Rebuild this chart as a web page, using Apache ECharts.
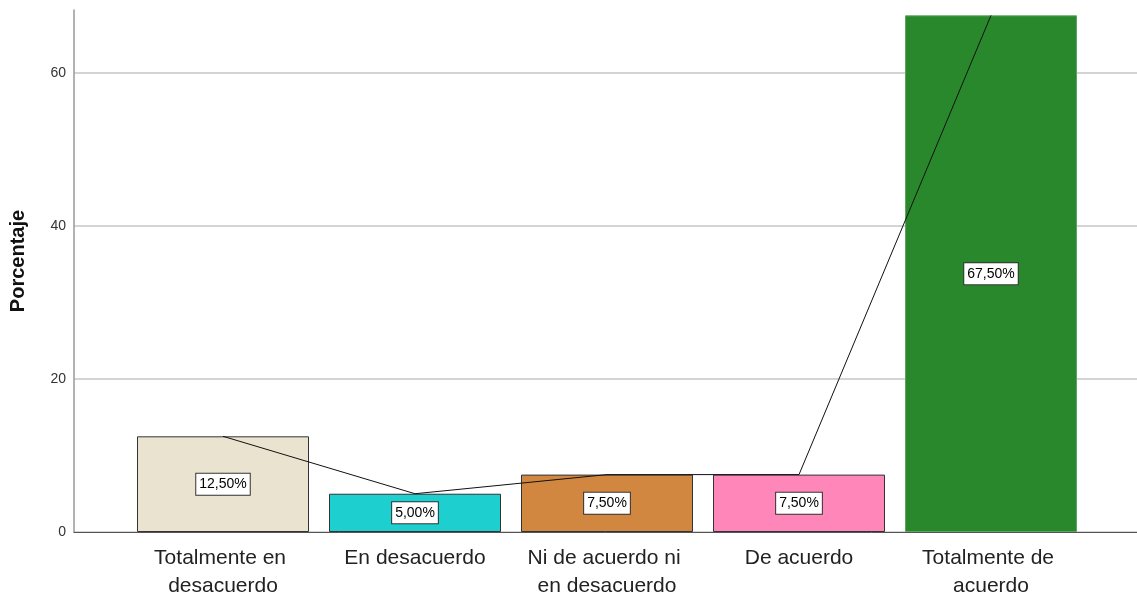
<!DOCTYPE html>
<html>
<head>
<meta charset="utf-8">
<script src="https://cdn.jsdelivr.net/npm/echarts@6/dist/echarts.min.js"></script>
<style>
  html, body { margin: 0; padding: 0; background: #fff; }
  #chartmain { width: 1137px; height: 597px; }
</style>
</head>
<body>
<div id="chartmain"></div>
<script>
// datos
var categorias = ['Totalmente en desacuerdo', 'En desacuerdo', 'Ni de acuerdo ni en desacuerdo', 'De acuerdo', 'Totalmente de acuerdo'];
var porcentajes = [12.5, 5.0, 7.5, 7.5, 67.5];
var colores = ['#EAE3D0', '#1ECFCF', '#D1873F', '#FF86B8', '#2A882C'];
var ticksY = [0, 20, 40, 60];

var myChart = echarts.init(document.getElementById('chartmain'));

var barras = porcentajes.map(function (v, i) {
    return {
        value: v,
        itemStyle: {
            color: colores[i],
            borderColor: i === 4 ? '#5DA55D' : '#333333',
            borderWidth: 1
        }
    };
});

var option = {
    backgroundColor: '#FFFFFF',
    textStyle: {fontFamily: 'Liberation Sans, Arial, sans-serif'},
    grid: [
        {left: 74, right: 0, top: 10, bottom: 65, outerBoundsMode: 'none'},
        {left: 127, right: 50, top: 10, bottom: 65, outerBoundsMode: 'none'}
    ],
    xAxis: [
        {
            type: 'value', gridIndex: 0, min: 0, max: 1,
            axisLine: {show: true, lineStyle: {color: '#555', width: 1}},
            axisTick: {show: false}, axisLabel: {show: false}, splitLine: {show: false}
        },
        {
            type: 'category', gridIndex: 1,
            data: categorias,
            axisLine: {show: false},
            axisTick: {show: false},
            axisLabel: {
                color: '#222', fontSize: 21, lineHeight: 28, margin: 12,
                width: 160, overflow: 'break', interval: 0
            }
        }
    ],
    yAxis: [
        {
            type: 'value', gridIndex: 0, min: 0, max: 68.2,
            // solo los ticks 0/20/40/60
            interval: 20,
            name: 'Porcentaje',
            nameLocation: 'middle',
            nameGap: 46,
            nameTextStyle: {fontSize: 20, fontWeight: 'bold', color: '#111', padding: [0, 0, 0, 20]},
            axisLine: {show: true, lineStyle: {color: '#999', width: 1.5}},
            axisTick: {show: false},
            axisLabel: {color: '#333', fontSize: 14, margin: 8, showMaxLabel: false,
                formatter: function (v) { return ticksY.indexOf(v) >= 0 ? v : ''; }},
            splitLine: {show: true, showMaxLine: false, lineStyle: {color: '#D4D4D4', width: 2}}
        },
        {
            type: 'value', gridIndex: 1, min: 0, max: 68.2,
            show: false
        }
    ],
    series: [
        {
            type: 'bar',
            xAxisIndex: 1, yAxisIndex: 1,
            barWidth: 172,
            data: barras,
            label: {
                show: true,
                position: 'inside',
                color: '#000',
                fontSize: 14,
                backgroundColor: '#fff',
                borderColor: '#333',
                borderWidth: 1,
                padding: [4, 3, 3, 3],
                formatter: function (p) { return p.value.toFixed(2).replace('.', ',') + '%'; }
            }
        },
        {
            type: 'line',
            xAxisIndex: 1, yAxisIndex: 1,
            data: porcentajes,
            symbol: 'none',
            lineStyle: {color: '#111', width: 1},
            z: 5
        }
    ]
};

myChart.setOption(option);
</script>
</body>
</html>
